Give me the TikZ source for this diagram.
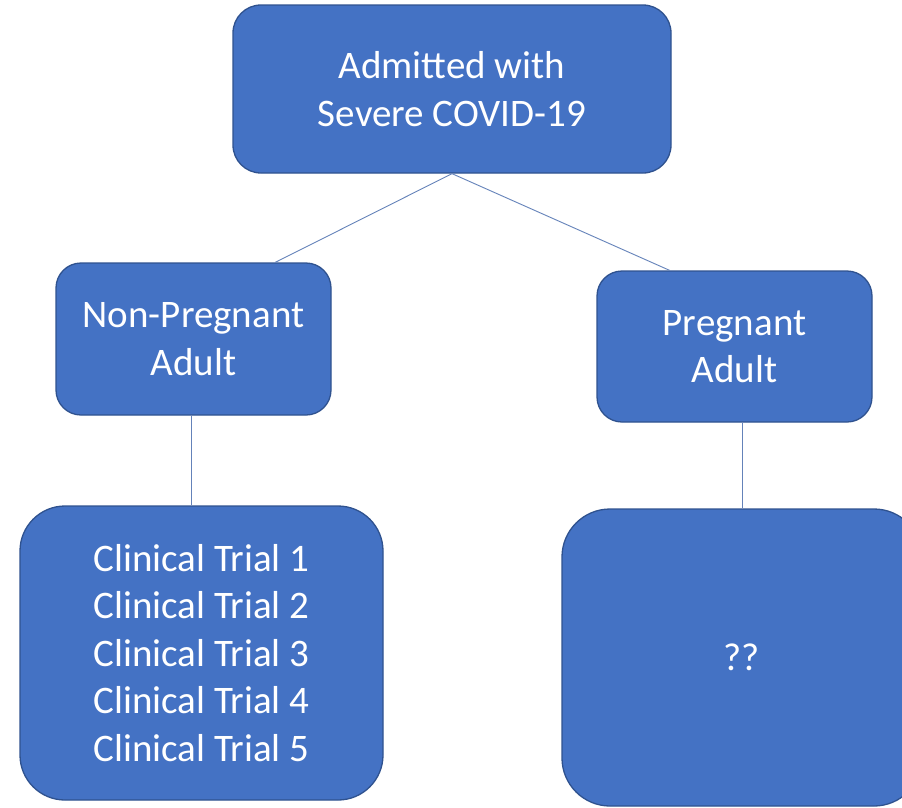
\documentclass[tikz,border=0pt]{standalone}
\usepackage{fontspec}
\setmainfont{Carlito}
\usetikzlibrary{calc}
\definecolor{boxfill}{RGB}{68,114,196}
\definecolor{boxedge}{RGB}{47,82,143}
\definecolor{linkc}{RGB}{100,130,185}
\begin{document}
\begin{tikzpicture}[x=1pt,y=-1pt,
  box/.style={rectangle, fill=boxfill, draw=boxedge, line width=1.3pt, inner sep=0pt,
    text=white, align=center, font=\fontsize{39}{47.5}\selectfont},
  link/.style={draw=linkc, line width=0.9pt}]
\useasboundingbox (0,0) rectangle (902,807);
\clip (0,0) rectangle (902,807);
\node[box, rounded corners=28pt, minimum width=438pt, minimum height=168pt] (top) at (452,89)
  {Admitted with\\Severe COVID-19};
\node[box, rounded corners=25pt, minimum width=275pt, minimum height=152pt] (np) at (193.5,339)
  {Non-Pregnant\\Adult};
\node[box, rounded corners=25pt, minimum width=275pt, minimum height=151pt] (pa) at (734.5,346.5)
  {Pregnant\\Adult};
\node[box, rounded corners=45pt, minimum width=363pt, minimum height=294pt] (ct) at (201.5,653)
  {Clinical Trial 1\\Clinical Trial 2\\Clinical Trial 3\\Clinical Trial 4\\Clinical Trial 5};
\node[box, rounded corners=48pt, minimum width=360pt, minimum height=297pt] (qq) at (742,657.5)
  {??};
\coordinate (npin) at ($(np.north west)!0.796!(np.north east)$);
\coordinate (pain) at ($(pa.north west)!0.265!(pa.north east)$);
\draw[link] (top.south) -- (npin);
\draw[link] (top.south) -- (pain);
\draw[link] ([xshift=-2.5pt]np.south) -- ([xshift=-2.5pt]np.south |- ct.north);
\draw[link] (qq.north |- pa.south) -- (qq.north);
\end{tikzpicture}
\end{document}
